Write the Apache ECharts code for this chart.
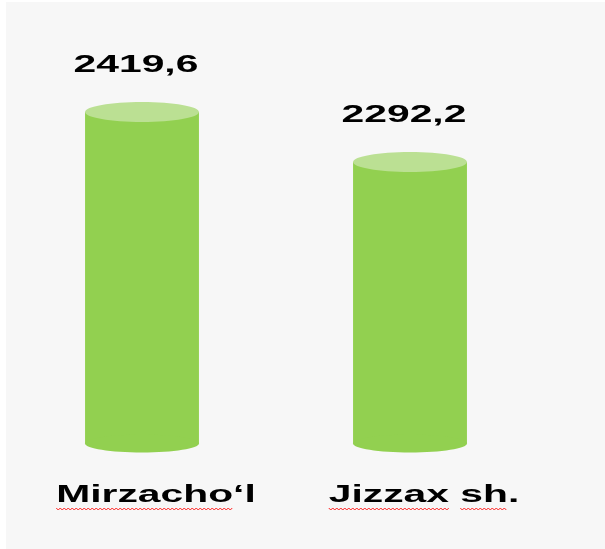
<!DOCTYPE html>
<html>
<head>
<meta charset="utf-8">
<script src="https://cdn.jsdelivr.net/npm/echarts@6/dist/echarts.min.js"></script>
<style>
    html, body { margin: 0; padding: 0; background: #ffffff; }
    #chart { width: 605px; height: 549px; }
</style>
</head>
<body>
<div id="chart"></div>
<script>
const categories = ['Mirzacho‘l', 'Jizzax sh.'];
const values = [2419.6, 2292.2];

const yMin = 1575;
const yMax = 2575;
const FONT = 'bold 24px "Liberation Sans", Arial, sans-serif';
const STRETCH = 1.7;

const measureCtx = document.createElement('canvas').getContext('2d');
measureCtx.font = FONT;

function squiggle(x0, x1, y) {
    const pts = [];
    let up = true;
    for (let x = x0; x <= x1; x += 2) {
        pts.push([x, y + (up ? -1 : 1)]);
        up = !up;
    }
    return pts;
}

function renderCylinder(params, api) {
    const i = params.dataIndex;
    const v = api.value(1);
    const top = api.coord([i, v]);
    const base = api.coord([i, yMin]);
    const w = api.size([1, 0])[0] * 0.425;
    const rx = w / 2;
    const ry = 10;
    const cx = top[0];

    const children = [
        {
            type: 'rect',
            shape: { x: cx - rx, y: top[1], width: w, height: base[1] - top[1] },
            style: { fill: '#92d050' }
        },
        {
            type: 'ellipse',
            shape: { cx: cx, cy: base[1], rx: rx, ry: ry - 1 },
            style: { fill: '#92d050' }
        },
        {
            type: 'ellipse',
            shape: { cx: cx, cy: top[1], rx: rx, ry: ry },
            style: { fill: '#bbe093' }
        },
        {
            type: 'text',
            x: cx - 6,
            y: top[1] - 46.5,
            scaleX: STRETCH,
            style: {
                text: v.toFixed(1).replace('.', ','),
                x: 0, y: 0,
                align: 'center',
                verticalAlign: 'middle',
                font: FONT,
                fill: '#000000'
            }
        }
    ];

    // category label under the cylinder
    const label = categories[i];
    const lx = cx + 14;
    const ly = 495.5;
    children.push({
        type: 'text',
        x: lx,
        y: ly,
        scaleX: STRETCH,
        style: {
            text: label,
            x: 0, y: 0,
            align: 'center',
            verticalAlign: 'middle',
            font: FONT,
            fill: '#000000'
        }
    });

    // spell-check wavy underline under each word
    const full = measureCtx.measureText(label).width * STRETCH;
    const left = lx - full / 2;
    const re = /[A-Za-z]{2,}/g;
    let m;
    while ((m = re.exec(label)) !== null) {
        const start = measureCtx.measureText(label.slice(0, m.index)).width * STRETCH;
        const ww = measureCtx.measureText(m[0]).width * STRETCH;
        children.push({
            type: 'polyline',
            shape: { points: squiggle(left + start, left + start + ww, 509) },
            style: { stroke: '#ff1f1f', lineWidth: 1, fill: null }
        });
    }

    return { type: 'group', children: children };
}

const chart = echarts.init(document.getElementById('chart'));

chart.setOption({
    backgroundColor: '#f7f7f7',
    animation: false,
    graphic: [
        {
            type: 'rect',
            left: 0, top: 0,
            shape: { width: 6, height: 549 },
            style: { fill: '#ffffff' }
        },
        {
            type: 'rect',
            left: 0, top: 0,
            shape: { width: 605, height: 2 },
            style: { fill: '#ffffff' }
        }
    ],
    grid: { left: 8, right: 61, top: 51, bottom: 105.5 },
    xAxis: {
        type: 'category',
        data: categories,
        show: false
    },
    yAxis: {
        type: 'value',
        min: yMin,
        max: yMax,
        show: false,
        splitLine: { show: false }
    },
    series: [
        {
            type: 'custom',
            renderItem: renderCylinder,
            encode: { x: 0, y: 1 },
            data: values.map((v, i) => [i, v])
        }
    ]
});

window.addEventListener('resize', () => chart.resize());
</script>
</body>
</html>
